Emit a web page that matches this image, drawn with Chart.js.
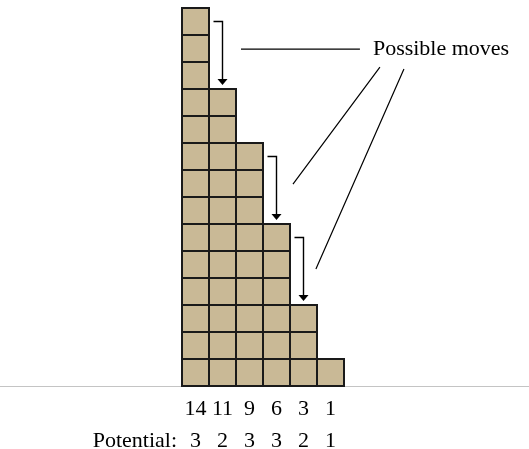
<!DOCTYPE html>
<html><head><meta charset="utf-8">
<script src="https://cdn.jsdelivr.net/npm/chart.js@4.4.1/dist/chart.umd.min.js"></script>
<style>html,body{margin:0;padding:0;background:#fff;}#wrap{width:529px;height:449px;position:relative;}</style>
</head><body><div id="wrap"><canvas id="c" width="529" height="449"></canvas></div>
<script>
// ---- data ----
const categories = ['14', '11', '9', '6', '3', '1'];
const heights = [14, 11, 9, 6, 3, 1];
const potentials = [3, 2, 3, 3, 2, 1];
const potentialLabel = 'Potential:';
const calloutText = 'Possible moves';
// possible moves: [from column, to column]
const moves = [[0, 1], [2, 3], [3, 4]];
// callout geometry in scale units [category index, value]
const calloutHorizontal = [[1.685, 12.48], [6.09, 12.48]];
const calloutTextPos = [6.57, 12.48];
const calloutDiagonals = [
  [[6.83, 11.81], [3.61, 7.48]],
  [[7.72, 11.74], [4.46, 4.33]]
];

const FONT = "'Liberation Serif', 'Times New Roman', serif";
const FS = 22;
const TICK_PAD = 7;
const LINE_H = 32;
const TAN = '#C9B996';

const drawPlugin = {
  id: 'drawPlugin',
  beforeDatasetsDraw(chart) {
    const ctx = chart.ctx, ys = chart.scales.y;
    const y0 = Math.round(ys.getPixelForValue(0)) + 0.5;
    ctx.save();
    ctx.strokeStyle = '#C4C4C4';
    ctx.lineWidth = 1;
    ctx.beginPath();
    ctx.moveTo(0, y0); ctx.lineTo(chart.width, y0);
    ctx.stroke();
    ctx.restore();
  },
  afterDatasetsDraw(chart) {
    const ctx = chart.ctx, xs = chart.scales.x, ys = chart.scales.y;
    const meta = chart.getDatasetMeta(0);
    ctx.save();
    // square grid inside each bar
    ctx.strokeStyle = '#1a1a1a';
    ctx.lineWidth = 2;
    meta.data.forEach((el, i) => {
      const l = el.x - el.width / 2, r = el.x + el.width / 2;
      ctx.strokeRect(l, el.y, r - l, el.base - el.y);
      ctx.beginPath();
      for (let j = 1; j < heights[i]; j++) {
        const yy = ys.getPixelForValue(j);
        ctx.moveTo(l, yy); ctx.lineTo(r, yy);
      }
      ctx.stroke();
    });
    // arrows
    ctx.strokeStyle = '#000';
    ctx.fillStyle = '#000';
    ctx.lineWidth = 1.4;
    moves.forEach(([a, b]) => {
      const xc = xs.getPixelForValue(b);
      const yS = ys.getPixelForValue(heights[a] - 0.5);
      const yE = ys.getPixelForValue(heights[b]) - 4;
      ctx.beginPath();
      ctx.moveTo(xc - 9, yS); ctx.lineTo(xc, yS); ctx.lineTo(xc, yE - 5);
      ctx.stroke();
      ctx.beginPath();
      ctx.moveTo(xc - 5, yE - 6); ctx.lineTo(xc + 5, yE - 6); ctx.lineTo(xc, yE);
      ctx.closePath(); ctx.fill();
    });
    // callout lines
    ctx.lineWidth = 1.2;
    ctx.beginPath();
    ctx.moveTo(xs.getPixelForValue(calloutHorizontal[0][0]), ys.getPixelForValue(calloutHorizontal[0][1]));
    ctx.lineTo(xs.getPixelForValue(calloutHorizontal[1][0]), ys.getPixelForValue(calloutHorizontal[1][1]));
    calloutDiagonals.forEach(([p, q]) => {
      ctx.moveTo(xs.getPixelForValue(p[0]), ys.getPixelForValue(p[1]));
      ctx.lineTo(xs.getPixelForValue(q[0]), ys.getPixelForValue(q[1]));
    });
    ctx.stroke();
    // texts
    ctx.font = FS + 'px ' + FONT;
    ctx.textBaseline = 'middle';
    ctx.textAlign = 'left';
    ctx.fillText(calloutText, xs.getPixelForValue(calloutTextPos[0]), ys.getPixelForValue(calloutTextPos[1]));
    ctx.textAlign = 'right';
    const lx = xs.getPixelForValue(0) - meta.data[0].width / 2 - 5;
    ctx.fillText(potentialLabel, lx, ys.getPixelForValue(0) + TICK_PAD + LINE_H * 1.5);
    ctx.restore();
  }
};

new Chart(document.getElementById('c'), {
  type: 'bar',
  data: {
    labels: categories,
    datasets: [{ data: heights, backgroundColor: TAN, borderWidth: 0, barPercentage: 1, categoryPercentage: 1 }]
  },
  options: {
    responsive: false,
    animation: false,
    devicePixelRatio: 1,
    layout: { padding: { left: 182, right: 185, top: 8, bottom: 0 } },
    plugins: { legend: { display: false }, tooltip: { enabled: false } },
    scales: {
      x: {
        display: true,
        grid: { display: false, drawTicks: false },
        border: { display: false },
        afterFit(s) { s.height = 63; },
        ticks: {
          padding: TICK_PAD,
          autoSkip: false,
          maxRotation: 0,
          color: '#000',
          font: { family: FONT, size: FS, lineHeight: LINE_H / FS },
          callback: (v, i) => [categories[i], String(potentials[i])]
        }
      },
      y: { display: false, min: 0, max: 14 }
    }
  },
  plugins: [drawPlugin]
});
</script>
</body></html>
